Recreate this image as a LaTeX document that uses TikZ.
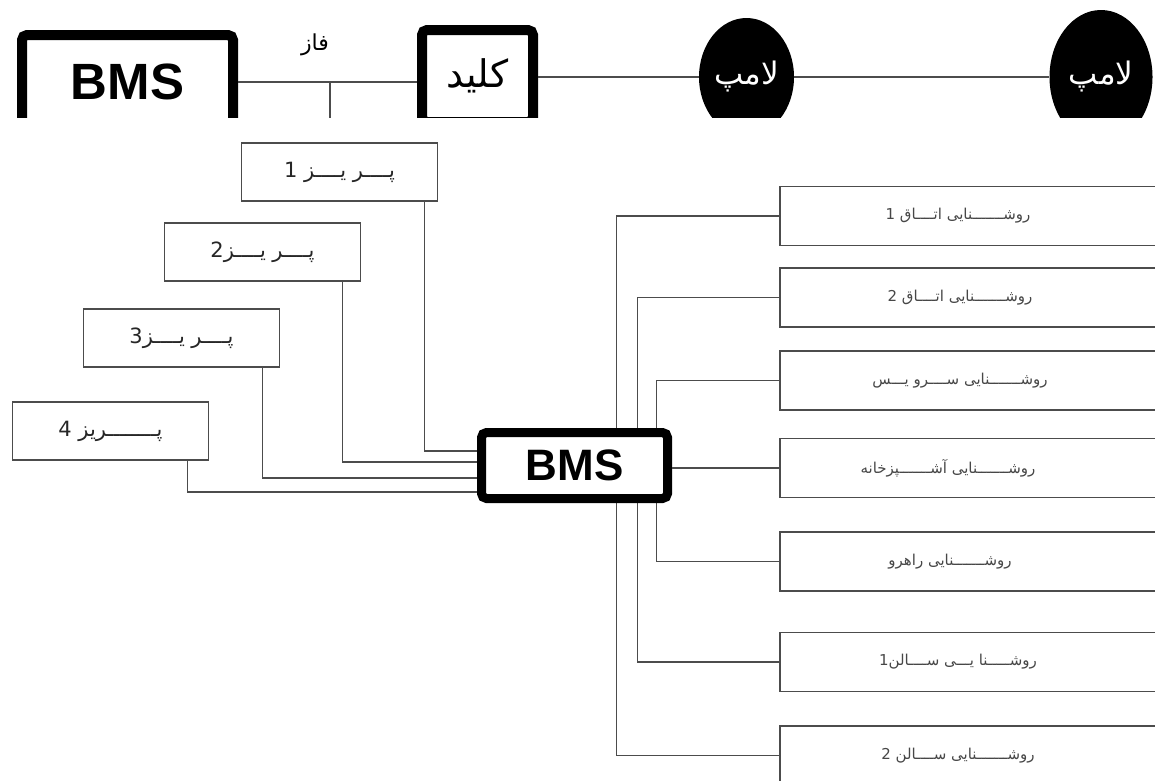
\documentclass[tikz,border=0pt]{standalone}
\usepackage{fontspec}
\setmainfont{Liberation Sans}
\newfontfamily\fa[Script=Arabic]{DejaVu Sans}
\TeXXeTstate=1
\usetikzlibrary{shapes.geometric}
\definecolor{ln}{gray}{0.3}
\begin{document}
\begin{tikzpicture}[x=1pt,y=-1pt,
  thickbox/.style={draw=black, line width=10pt, rounded corners=5pt, fill=white, inner sep=0pt},
  lamp/.style={ellipse, fill=black, inner sep=0pt, text=white, font={\fa\fontsize{31}{36}\selectfont}},
  pbox/.style={draw=ln, line width=1.4pt, minimum width=196pt, minimum height=58pt, inner sep=0pt, text=black!85, font={\fa\fontsize{21}{25}\selectfont}},
  rbox/.style={draw=ln, line width=1.4pt, minimum width=420pt, minimum height=59pt, inner sep=0pt},
  rtext/.style={inner sep=0pt, text=black!72, font={\fa\fontsize{15}{18}\selectfont}},
  wire/.style={draw=ln, line width=1.2pt}]
\useasboundingbox (0,0) rectangle (1155,780);
\clip (0,0) rectangle (1155,780);
% ---- top strip ----
\begin{scope}
\clip (0,0) rectangle (1155,117);
\node[thickbox, minimum width=211pt, minimum height=94pt, font={\bfseries\fontsize{51}{60}\selectfont}] (bmstop) at (127.5,82) {BMS};
\node[thickbox, minimum width=111pt, minimum height=92pt, font={\fa\fontsize{38}{44}\selectfont}] (kelid) at (477.5,76) {\beginR کلید\endR};
\node[lamp, minimum width=95pt, minimum height=118pt] (lamp1) at (746.5,77) {\beginR لامپ\endR};
\node[lamp, minimum width=103pt, minimum height=134pt] (lamp2) at (1101,77) {\beginR لامپ\endR};
\node[font={\fa\fontsize{22}{26}\selectfont}] (faz) at (315,45) {\beginR فاز\endR};
\coordinate (tap) at (330,82);
\coordinate (tapend) at (330,130);
\draw[wire] (bmstop.east) -- (kelid.west |- bmstop.east);
\draw[wire] (tap) -- (tapend);
\draw[wire] (kelid.east |- lamp1.west) -- (lamp1.west);
\draw[wire] (lamp1.east) -- (lamp2.west);
\end{scope}
% ---- right boxes ----
\node[rbox] (r1) at (990,216) {};
\node[rbox] (r2) at (990,297.5) {};
\node[rbox] (r3) at (990,380.5) {};
\node[rbox] (r4) at (990,468) {};
\node[rbox] (r5) at (990,561.5) {};
\node[rbox] (r6) at (990,662) {};
\node[rbox] (r7) at (990,755.5) {};
\node[rtext] (t1) at (958,216) {\beginR روشـــــــنایی  اتــــاق  1\endR};
\node[rtext] (t2) at (960,297.5) {\beginR روشـــــــنایی  اتــــاق  2\endR};
\node[rtext] (t3) at (960,380.5) {\beginR روشـــــــنایی  ســــرو  یـــس\endR};
\node[rtext] (t4) at (948,468) {\beginR روشـــــــنایی  آشـــــــپزخانه\endR};
\node[rtext] (t5) at (950,561.5) {\beginR روشـــــــنایی  راهرو\endR};
\node[rtext] (t6) at (958,662) {\beginR روشـــــنا  یـــی  ســــالن1\endR};
\node[rtext] (t7) at (958,755.5) {\beginR روشـــــــنایی  ســــالن  2\endR};
\draw[wire] (r1.west) -- ++(-163,0) |- (r7.west);
\draw[wire] (r2.west) -- ++(-142,0) |- (r6.west);
\draw[wire] (r3.west) -- ++(-123,0) |- (r5.west);
% ---- central BMS ----
\node[thickbox, line width=9pt, minimum width=186pt, minimum height=66pt, font={\bfseries\fontsize{44}{52}\selectfont}] (bms) at (574.5,465.5) {BMS};
\draw[wire] (bms.east |- r4.west) -- (r4.west);
% ---- sockets ----
\node[pbox] (p1) at (339.5,172) {\beginR پــــر  یــــز  1\endR};
\node[pbox] (p2) at (262.5,252) {\beginR پــــر  یــــز2\endR};
\node[pbox] (p3) at (181.5,338) {\beginR پــــر  یــــز3\endR};
\node[pbox] (p4) at (110.5,431) {\beginR پــــــــریز  4\endR};
\draw[wire] ([xshift=-13.5pt]p1.south east) |- ([yshift=14.5pt]bms.west);
\draw[wire] ([xshift=-18.5pt]p2.south east) |- ([yshift=3.5pt]bms.west);
\draw[wire] ([xshift=-17.5pt]p3.south east) |- ([yshift=-12.5pt]bms.west);
\draw[wire] ([xshift=-21.5pt]p4.south east) |- ([yshift=-26.5pt]bms.west);
\end{tikzpicture}
\end{document}
